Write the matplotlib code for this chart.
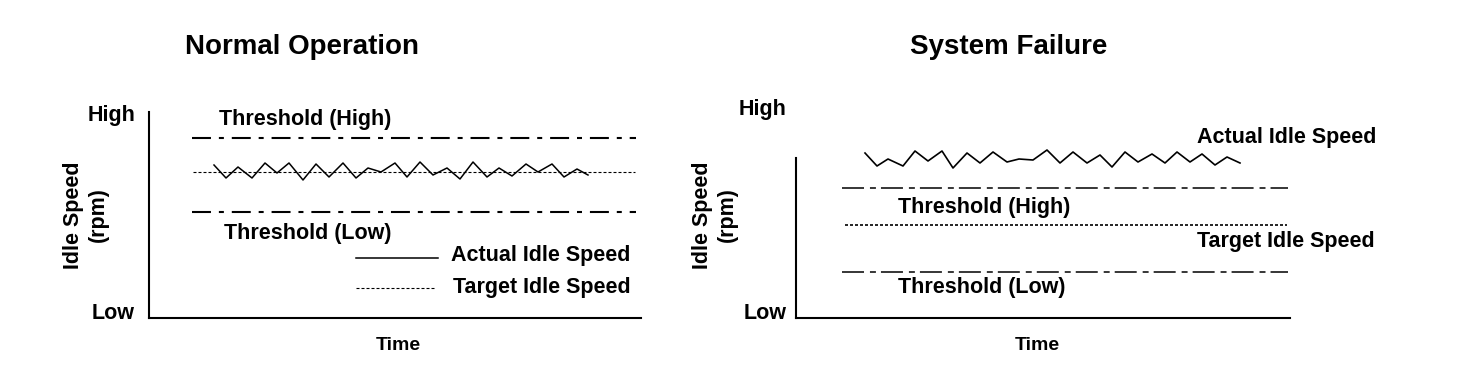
import matplotlib
matplotlib.use("Agg")
import matplotlib.pyplot as plt

plt.rcParams['font.family'] = ['Liberation Sans', 'DejaVu Sans']
plt.rcParams['font.weight'] = 'bold'

# ---- Normal Operation (x: time, y: idle speed, arbitrary units) ----
n_thr_high = 180
n_thr_low = 106
n_target = 146
n_line_x = (43, 487)
n_target_x = (44, 486)
n_act_x = [65, 77, 89, 103, 116, 128, 140, 154, 167, 180, 194, 207, 219, 232, 246,
           258, 271, 284, 298, 311, 324, 338, 350, 363, 377, 389, 403, 415, 428, 439]
n_act_y = [153, 140, 151, 140, 155, 145, 155, 138, 154, 141, 155, 140, 150, 146, 155,
           141, 156, 143, 150, 139, 156, 141, 150, 142, 154, 146, 154, 141, 149, 143]

# ---- System Failure ----
f_thr_high = 130
f_thr_low = 46
f_target = 93
f_line_x = (46, 492)
f_target_x = (49, 491)
f_act_x = [69, 81, 92, 107, 119, 132, 146, 157, 171, 184, 197, 211, 223, 237, 251,
           264, 277, 291, 304, 316, 329, 342, 356, 369, 381, 394, 406, 419, 431, 444]
f_act_y = [165, 152, 159, 152, 167, 157, 167, 150, 165, 155, 166, 156, 159, 158, 168,
           155, 166, 155, 163, 151, 166, 156, 164, 155, 166, 156, 164, 153, 161, 155]

W, H = 1472, 376
fig = plt.figure(figsize=(W / 100, H / 100), dpi=100)

lab_fs = 15.5
title_fs = 20


def make_axes(left_px, width_px, spine_top):
    ax = fig.add_axes([left_px / W, (H - 318) / H, width_px / W, 218 / H])
    ax.set_xlim(0, width_px)
    ax.set_ylim(0, 218)
    for s in ['top', 'right']:
        ax.spines[s].set_visible(False)
    ax.spines['left'].set_linewidth(1.5)
    ax.spines['bottom'].set_linewidth(1.5)
    ax.spines['left'].set_bounds(0, spine_top)
    ax.set_xticks([])
    ax.tick_params(axis='y', length=0)
    return ax


# left panel
ax1 = make_axes(149, 492, 206)
dd1 = (0, (9.1, 3.8, 2.4, 3.8))
dot1 = (0, (2.7, 1.8))
ax1.hlines(n_thr_high, *n_line_x, color='black', lw=1.5, linestyle=dd1)
ax1.hlines(n_thr_low, *n_line_x, color='black', lw=1.5, linestyle=dd1)
ax1.hlines(n_target, *n_target_x, color='black', lw=0.8, linestyle=dot1)
ax1.plot(n_act_x, n_act_y, color='black', lw=1.1)
ax1.plot([207, 289], [60, 60], color='black', lw=1.1)
ax1.plot([207, 287], [30, 30], color='black', lw=0.8, linestyle=dot1)
ax1.text(70, 199, 'Threshold (High)', fontsize=lab_fs, va='center')
ax1.text(75, 84, 'Threshold (Low)', fontsize=lab_fs, va='center')
ax1.text(302, 63, 'Actual Idle Speed', fontsize=lab_fs, va='center')
ax1.text(304, 31, 'Target Idle Speed', fontsize=lab_fs, va='center')
ax1.set_yticks([7, 205], ['Low', 'High'], fontsize=15.5)
ax1.tick_params(axis='y', pad=10)
ax1.text(-63, 103, 'Idle Speed\n(rpm)', fontsize=15.5, rotation=90,
         ha='center', va='center', multialignment='center', linespacing=1.25)
ax1.text(249, -27, 'Time', fontsize=14, ha='center', va='center')
ax1.text(153, 271, 'Normal Operation', fontsize=title_fs, ha='center', va='center')

# right panel
ax2 = make_axes(796, 494, 160)
dd2 = (0, (14.4, 3.9, 3.9, 3.3))
dot2 = (0, (1.8, 1.2))
ax2.hlines(f_thr_high, *f_line_x, color='black', lw=1.1, linestyle=dd2)
ax2.hlines(f_thr_low, *f_line_x, color='black', lw=1.1, linestyle=dd2)
ax2.hlines(f_target, *f_target_x, color='black', lw=1.2, linestyle=dot2)
ax2.plot(f_act_x, f_act_y, color='black', lw=1.2)
ax2.text(401, 180, 'Actual Idle Speed', fontsize=lab_fs, va='center')
ax2.text(102, 110, 'Threshold (High)', fontsize=lab_fs, va='center')
ax2.text(401, 77, 'Target Idle Speed', fontsize=lab_fs, va='center')
ax2.text(102, 31, 'Threshold (Low)', fontsize=lab_fs, va='center')
ax2.set_yticks([7, 211], ['Low', 'High'], fontsize=15.5)
ax2.tick_params(axis='y', pad=6.5)
ax2.text(-81, 103, 'Idle Speed\n(rpm)', fontsize=15.5, rotation=90,
         ha='center', va='center', multialignment='center', linespacing=1.25)
ax2.text(241, -27, 'Time', fontsize=14, ha='center', va='center')
ax2.text(213, 271, 'System Failure', fontsize=title_fs, ha='center', va='center')

fig.savefig('out.png', dpi=100)
